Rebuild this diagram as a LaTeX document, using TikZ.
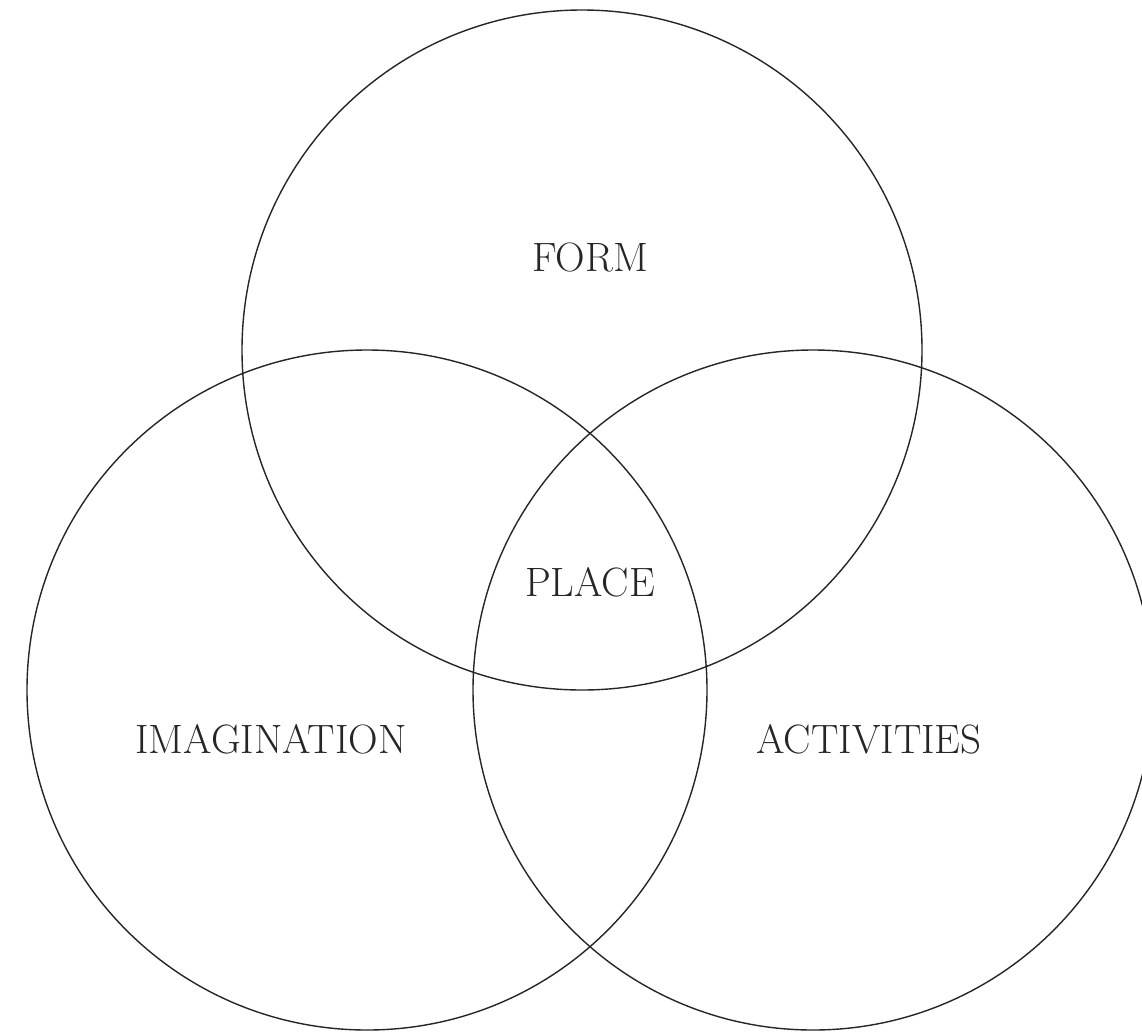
\documentclass[tikz,border=0pt]{standalone}
\begin{document}
\begin{tikzpicture}[x=1pt,y=-1pt,
  ring/.style={draw=black!85,line width=1.4pt},
  lbl/.style={font=\fontsize{41}{44}\selectfont,text=black!85,inner sep=0pt}]
\useasboundingbox (0,0) rectangle (1142,1031);
\clip (0,0) rectangle (1142,1031);
\fill[white] (0,0) rectangle (1142,1031);
\draw[ring] (582,350) circle (340);
\draw[ring] (367,690) circle (340);
\draw[ring] (813,690) circle (340);
\node[lbl] (form) at (590,257) {FORM};
\node[lbl] (place) at (590,582) {PLACE};
\node[lbl] (imag) at (271,739) {IMAGINATION};
\node[lbl] (act) at (869,739) {ACTIVITIES};
\end{tikzpicture}
\end{document}
